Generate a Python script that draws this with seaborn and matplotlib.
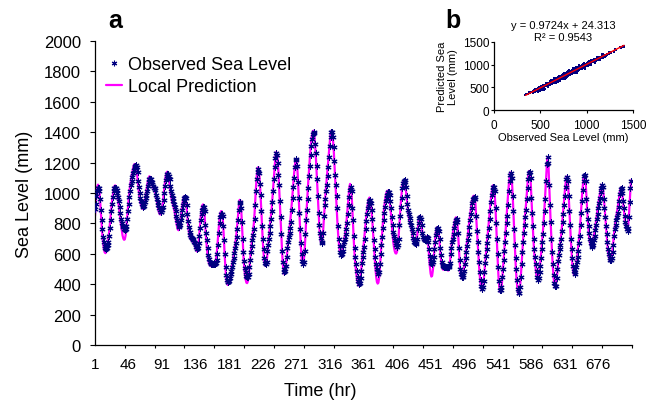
import numpy as np
import matplotlib
matplotlib.use("Agg")
import matplotlib.pyplot as plt
import seaborn as sns
from matplotlib.lines import Line2D

# hourly sea level (mm), hours 1..720
observed = [
    895, 930, 980, 1015, 1030, 1030, 1010, 960, 890, 820,
    760, 710, 675, 650, 638, 633, 640, 655, 680, 720,
    770, 825, 880, 930, 975, 1010, 1030, 1035, 1030, 1020,
    1000, 975, 950, 910, 870, 830, 800, 785, 775, 765,
    755, 760, 780, 830, 880, 930, 975, 1015, 1050, 1080,
    1105, 1130, 1150, 1168, 1180, 1182, 1170, 1140, 1080, 1040,
    1000, 970, 950, 930, 915, 907, 915, 940, 965, 990,
    1010, 1045, 1075, 1090, 1094, 1090, 1075, 1060, 1045, 1035,
    1030, 1020, 990, 960, 940, 920, 900, 888, 878, 875,
    885, 910, 955, 1000, 1045, 1085, 1110, 1122, 1127, 1115,
    1090, 1045, 1010, 985, 965, 945, 925, 905, 880, 850,
    825, 800, 780, 776, 790, 820, 855, 890, 920, 948,
    965, 974, 965, 920, 865, 815, 775, 745, 725, 712,
    702, 695, 688, 680, 670, 660, 645, 633, 640, 670,
    720, 770, 820, 860, 890, 905, 908, 880, 790, 740,
    690, 640, 595, 565, 548, 538, 534, 536, 530, 534,
    538, 535, 540, 560, 600, 660, 740, 800, 840, 860,
    864, 850, 780, 690, 600, 515, 460, 430, 415, 413,
    420, 440, 465, 490, 515, 545, 575, 605, 635, 670,
    710, 760, 820, 890, 935, 941, 900, 810, 700, 610,
    550, 505, 480, 455, 446, 450, 470, 510, 560, 610,
    650, 690, 725, 760, 830, 920, 1010, 1090, 1140, 1160,
    1130, 1060, 990, 880, 780, 700, 630, 575, 540, 534,
    545, 620, 660, 700, 740, 780, 830, 880, 940, 1010,
    1090, 1170, 1230, 1260, 1250, 1200, 1120, 1050, 950, 840,
    730, 620, 545, 500, 481, 490, 520, 580, 640, 680,
    710, 740, 770, 810, 890, 970, 1040, 1100, 1170, 1215,
    1222, 1180, 1070, 970, 870, 760, 670, 600, 555, 536,
    545, 620, 730, 820, 890, 960, 1030, 1110, 1180, 1250,
    1310, 1355, 1390, 1404, 1395, 1320, 1260, 1180, 1090, 980,
    870, 790, 740, 705, 670, 675, 740, 850, 920, 960,
    1010, 1050, 1110, 1170, 1240, 1310, 1370, 1400, 1404, 1370,
    1300, 1210, 1120, 1050, 980, 900, 780, 700, 650, 610,
    591, 600, 620, 650, 680, 700, 730, 760, 800, 860,
    920, 975, 1020, 1042, 1010, 900, 820, 720, 640, 580,
    530, 490, 450, 420, 404, 410, 440, 490, 540, 580,
    615, 645, 700, 760, 815, 860, 900, 930, 945, 954,
    935, 890, 830, 760, 690, 630, 580, 530, 500, 480,
    470, 480, 530, 600, 660, 710, 770, 820, 870, 910,
    945, 970, 990, 1005, 1008, 990, 950, 900, 840, 790,
    745, 715, 690, 670, 655, 646, 660, 700, 790, 850,
    910, 970, 1030, 1065, 1080, 1086, 1070, 1040, 980, 930,
    890, 860, 835, 810, 790, 760, 735, 705, 680, 670,
    665, 668, 700, 760, 805, 835, 844, 830, 790, 740,
    710, 700, 692, 690, 700, 710, 705, 680, 630, 585,
    555, 540, 536, 545, 580, 630, 680, 725, 752, 765,
    767, 750, 700, 640, 590, 545, 525, 518, 515, 514,
    512, 516, 514, 512, 515, 520, 540, 600, 640, 675,
    700, 730, 770, 800, 820, 828, 810, 740, 640, 560,
    500, 465, 450, 448, 460, 490, 530, 570, 610, 650,
    690, 730, 775, 820, 860, 900, 935, 958, 970, 976,
    960, 850, 750, 680, 610, 545, 480, 430, 390, 371,
    380, 420, 480, 540, 585, 630, 670, 720, 770, 830,
    880, 940, 985, 1020, 1038, 1042, 1010, 900, 800, 700,
    600, 510, 420, 365, 360, 380, 450, 500, 560, 620,
    680, 740, 800, 850, 920, 1010, 1080, 1120, 1130, 1100,
    980, 880, 760, 660, 570, 500, 430, 370, 340, 345,
    380, 450, 530, 610, 680, 740, 790, 840, 890, 960,
    1030, 1090, 1130, 1140, 1100, 970, 870, 780, 700, 630,
    580, 530, 490, 450, 430, 440, 480, 520, 575, 630,
    680, 730, 800, 880, 960, 1080, 1190, 1239, 1200, 1050,
    920, 810, 700, 610, 530, 460, 410, 385, 390, 440,
    500, 550, 595, 630, 660, 695, 750, 810, 865, 920,
    980, 1040, 1090, 1107, 1080, 980, 880, 790, 700, 630,
    570, 520, 485, 470, 480, 510, 545, 580, 620, 670,
    720, 790, 870, 950, 1020, 1080, 1115, 1118, 1080, 960,
    890, 830, 780, 740, 700, 670, 650, 646, 660, 690,
    720, 755, 790, 830, 865, 900, 935, 970, 1005, 1035,
    1053, 1040, 960, 900, 840, 780, 730, 680, 630, 600,
    575, 560, 558, 575, 610, 660, 720, 760, 790, 820,
    845, 870, 910, 950, 995, 1025, 1031, 1000, 950, 900,
    850, 810, 780, 760, 750, 770, 840, 940, 1030, 1080,
]

predicted = [
    850, 920, 990, 1040, 1055, 1045, 1005, 940, 860, 790,
    720, 670, 630, 610, 604, 610, 630, 660, 700, 745,
    800, 850, 900, 950, 990, 1025, 1045, 1050, 1040, 1015,
    985, 950, 915, 870, 825, 785, 750, 720, 700, 692,
    695, 720, 770, 830, 890, 950, 1000, 1045, 1080, 1110,
    1135, 1160, 1180, 1190, 1190, 1175, 1145, 1100, 1050, 1000,
    965, 935, 915, 900, 895, 900, 920, 950, 985, 1020,
    1050, 1080, 1100, 1110, 1105, 1090, 1070, 1050, 1035, 1025,
    1015, 1000, 975, 945, 915, 890, 870, 860, 860, 870,
    895, 935, 985, 1035, 1080, 1115, 1135, 1140, 1125, 1095,
    1055, 1015, 980, 955, 935, 915, 895, 870, 840, 810,
    780, 760, 755, 765, 795, 835, 880, 920, 950, 970,
    980, 975, 950, 900, 840, 785, 740, 715, 700, 690,
    685, 680, 675, 665, 650, 635, 620, 615, 630, 675,
    735, 800, 855, 895, 920, 925, 905, 850, 770, 700,
    640, 590, 555, 535, 525, 520, 520, 522, 525, 530,
    535, 540, 555, 590, 645, 710, 775, 830, 865, 880,
    880, 850, 780, 680, 580, 500, 440, 405, 395, 400,
    415, 440, 470, 500, 530, 560, 590, 625, 660, 700,
    750, 805, 865, 920, 955, 950, 895, 800, 690, 590,
    520, 465, 430, 410, 407, 420, 450, 500, 560, 615,
    660, 700, 745, 800, 870, 960, 1050, 1120, 1165, 1170,
    1140, 1075, 985, 880, 775, 680, 605, 555, 525, 520,
    540, 590, 650, 700, 745, 795, 845, 905, 975, 1050,
    1125, 1195, 1245, 1270, 1260, 1210, 1130, 1030, 920, 810,
    700, 600, 525, 480, 465, 475, 515, 570, 630, 685,
    730, 775, 825, 880, 940, 1005, 1070, 1130, 1180, 1215,
    1225, 1185, 1100, 985, 860, 745, 650, 580, 540, 530,
    555, 615, 705, 810, 910, 1000, 1080, 1155, 1225, 1290,
    1340, 1380, 1405, 1410, 1385, 1330, 1250, 1150, 1045, 940,
    840, 760, 705, 675, 670, 700, 760, 840, 920, 990,
    1050, 1110, 1170, 1230, 1290, 1345, 1390, 1410, 1400, 1360,
    1290, 1200, 1100, 1000, 900, 810, 730, 670, 625, 600,
    595, 605, 630, 660, 690, 720, 755, 800, 860, 925,
    985, 1035, 1060, 1050, 995, 900, 790, 685, 600, 535,
    485, 445, 415, 395, 390, 405, 440, 490, 545, 600,
    650, 700, 755, 810, 860, 900, 935, 960, 970, 960,
    930, 880, 810, 730, 650, 575, 505, 450, 415, 404,
    410, 445, 505, 580, 660, 735, 805, 865, 915, 955,
    985, 1005, 1015, 1012, 995, 960, 910, 850, 785, 725,
    675, 640, 615, 603, 602, 615, 650, 710, 785, 860,
    930, 990, 1040, 1070, 1085, 1080, 1055, 1015, 965, 915,
    870, 835, 810, 790, 770, 745, 715, 690, 670, 660,
    660, 675, 715, 770, 815, 845, 850, 830, 785, 735,
    700, 685, 685, 695, 710, 715, 695, 650, 580, 515,
    470, 450, 455, 490, 550, 620, 690, 740, 770, 775,
    765, 735, 680, 615, 560, 520, 500, 495, 500, 505,
    505, 500, 495, 490, 490, 505, 545, 600, 655, 705,
    745, 780, 810, 830, 840, 830, 790, 720, 630, 540,
    480, 450, 438, 445, 470, 510, 555, 600, 645, 690,
    730, 775, 820, 860, 900, 935, 962, 978, 982, 970,
    935, 850, 760, 670, 590, 515, 450, 400, 370, 360,
    375, 415, 470, 530, 590, 645, 700, 755, 810, 865,
    920, 970, 1010, 1040, 1052, 1040, 990, 900, 780, 660,
    550, 450, 385, 350, 348, 375, 430, 495, 565, 635,
    710, 785, 860, 930, 1000, 1065, 1110, 1135, 1130, 1080,
    990, 880, 760, 640, 535, 450, 390, 350, 335, 350,
    390, 455, 535, 615, 690, 755, 815, 870, 930, 1000,
    1065, 1115, 1145, 1140, 1090, 990, 880, 775, 680, 605,
    545, 495, 455, 435, 435, 455, 490, 535, 590, 650,
    710, 775, 850, 930, 1020, 1120, 1200, 1235, 1180, 1060,
    930, 800, 690, 590, 505, 440, 395, 378, 392, 440,
    480, 540, 590, 635, 675, 720, 775, 835, 895, 955,
    1015, 1065, 1100, 1110, 1080, 995, 890, 790, 695, 610,
    535, 490, 465, 465, 485, 520, 560, 605, 655, 705,
    750, 830, 905, 980, 1045, 1095, 1120, 1110, 1060, 970,
    880, 805, 740, 695, 665, 650, 650, 665, 690, 725,
    745, 785, 825, 865, 900, 935, 965, 995, 1025, 1045,
    1055, 1035, 985, 920, 855, 790, 725, 665, 615, 580,
    560, 550, 555, 580, 625, 680, 735, 780, 815, 850,
    880, 910, 945, 980, 1015, 1035, 1030, 995, 945, 890,
    840, 800, 770, 755, 760, 795, 860, 945, 1030, 1085,
]

x_tick_labels = [1, 46, 91, 136, 181, 226, 271, 316, 361, 406, 451, 496, 541, 586, 631, 676]
y_ticks = [0, 200, 400, 600, 800, 1000, 1200, 1400, 1600, 1800, 2000]
inset_ticks = [0, 500, 1000, 1500]
fit_text = "y = 0.9724x + 24.313\nR\u00b2 = 0.9543"

n = min(len(observed), len(predicted))
hours = np.arange(1, n + 1)
obs = np.array(observed[:n])
pred = np.array(predicted[:n])

sns.set_style("ticks")
plt.rcParams['font.family'] = ['Liberation Sans', 'DejaVu Sans']
for key in ['axes.edgecolor', 'xtick.color', 'ytick.color', 'text.color', 'axes.labelcolor']:
    plt.rcParams[key] = 'black'

NAVY = '#000080'
MAGENTA = '#FF00FF'
STAR = (6, 2, 0)

fig = plt.figure(figsize=(6.56, 4.06), dpi=100)

### main panel (a) ###
ax = fig.add_axes([0.1448, 0.1478, 0.8186, 0.7488])
sns.lineplot(x=hours, y=pred, color=MAGENTA, linewidth=1.6, ax=ax, zorder=2)
sns.scatterplot(x=hours, y=obs, marker=STAR, color=NAVY, s=14, linewidth=0.8, ax=ax, zorder=3)

ax.set_xlim(1, 721)
ax.set_ylim(0, 2000)
ax.set_yticks(y_ticks)
ax.set_xticks(x_tick_labels)
ax.set_xticks(range(1, 722, 40), minor=True)
ax.tick_params(axis='x', which='major', length=0, pad=8.5, labelsize=11)
ax.tick_params(axis='x', which='minor', length=2.5, width=0.8, direction='out')
ax.tick_params(axis='y', length=3.5, width=0.8, pad=6.5, labelsize=12)
for s in ax.spines.values():
    s.set_linewidth(0.9)
sns.despine(ax=ax)

ax.set_ylabel('Sea Level (mm)', fontsize=13, labelpad=8)
ax.set_xlabel('Time (hr)', fontsize=13)
ax.xaxis.set_label_coords(0.419, -0.122)

handles = [
    Line2D([], [], marker=STAR, color=NAVY, ls='', markersize=4, markeredgewidth=0.8),
    Line2D([], [], color=MAGENTA, lw=1.6),
]
ax.legend(handles, ['Observed Sea Level', 'Local Prediction'], loc='upper left',
          bbox_to_anchor=(106 / 656, 1 - 57 / 406), bbox_transform=fig.transFigure,
          frameon=False, fontsize=13, handlelength=0.9, handletextpad=0.3,
          labelspacing=0.3, borderpad=0, borderaxespad=0)

fig.text(108 / 656, 1 - 28 / 406, 'a', fontsize=18, fontweight='bold', va='baseline')

### inset panel (b) ###
ax_in = fig.add_axes([0.7530, 0.7266, 0.2119, 0.1675])
sns.scatterplot(x=obs, y=pred, ax=ax_in, color=NAVY, s=3, marker='s', linewidth=0)
sns.regplot(x=obs, y=pred, ax=ax_in, scatter=False, ci=None, color='red', line_kws=dict(lw=1))
ax_in.set_xlim(0, 1500)
ax_in.set_ylim(0, 1500)
ax_in.set_xticks(inset_ticks)
ax_in.set_yticks(inset_ticks)
ax_in.tick_params(axis='x', labelsize=8.5, length=2.5, width=0.8, pad=4)
ax_in.tick_params(axis='y', labelsize=8.5, length=2.5, width=0.8, pad=1)
for s in ax_in.spines.values():
    s.set_linewidth(0.9)
sns.despine(ax=ax_in)
ax_in.set_xlabel('Observed Sea Level (mm)', fontsize=8, labelpad=1)
ax_in.set_ylabel('Predicted Sea\nLevel (mm)', fontsize=8, labelpad=3)
ax_in.set_title(fit_text, fontsize=8, pad=1)

fig.text(445 / 656, 1 - 28 / 406, 'b', fontsize=18, fontweight='bold', va='baseline')

fig.savefig('out.png', dpi=100)
